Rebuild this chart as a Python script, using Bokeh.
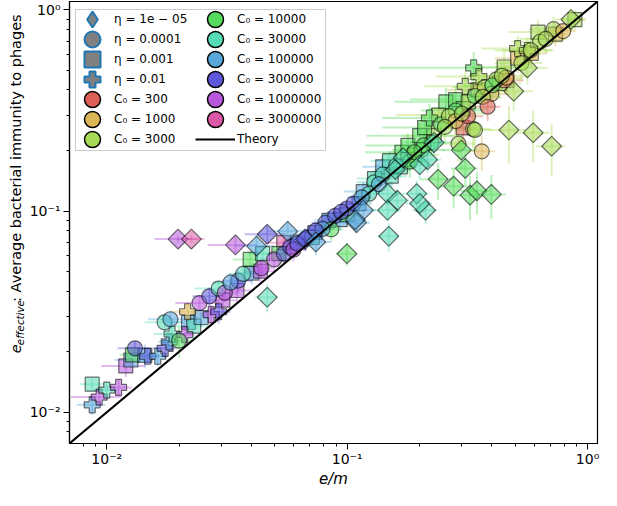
import math
from bokeh.plotting import figure
from bokeh.layouts import row
from bokeh.models import (ColumnDataSource, Legend, LegendItem, BoxAnnotation,
                          CustomJSTickFormatter, Range1d)
from bokeh.core.properties import value
from bokeh.embed import file_html
from bokeh.resources import INLINE

# ---------------- data ----------------
C0_VALUES = [300, 1000, 3000, 10000, 30000, 100000, 300000, 1000000, 3000000]
C0_COLORS = ["#db5f57", "#dbb757", "#a7db57", "#57db5f", "#57dbb7",
             "#57a7db", "#5f57db", "#b757db", "#db57a7"]
ETA_VALUES = [1e-05, 0.0001, 0.001, 0.01]
ETA_LABELS = ["η = 1e − 05", "η = 0.0001", "η = 0.001", "η = 0.01"]
X_LABEL = "e/m"
Y_LABEL_PARTS = ["e", "effective", ": Average bacterial immunity to phages"]

# eta = 1e-05 (diamonds)
D_em = [.0465, .0198, .0225, .0343, .0420, .0465, .0566, .0670, .0741, .0998,
        .1094, .1167, .1080, .1473, .1618, .1473, .1490, .1947, .2120, .2004,
        .1588, .1710, .2004, .2160, .2300, .2390, .2773, .3100, .3245, .3467,
        .3980, .2985, .4930, .5620, .8530, .4710, .5940, .7090]
D_eeff = [.0373, .0726, .0726, .0679, .0670, .0767, .0793, .0726, .0702, .0614,
          .0876, .1010, .0906, .1220, .1130, .1010, .0750, .1220, .1010, .1090,
          .1610, .1840, .1700, .1800, .2190, .1440, .1330, .1630, .1200, .1260,
          .1210, .2010, .3940, .5150, .8950, .2530, .2450, .2100]
D_em_err = [.0050, .0040, .0030, .0080, .0080, .0090, .0100, .0100, .0120, .0100,
            .0150, .0150, .0120, .0200, .0200, .0200, .0150, .0250, .0250, .0250,
            .0250, .0250, .0300, .0300, .0300, .0400, .0400, .0400, .0500, .0500,
            .0600, .0500, .1000, .1200, .1200, .0800, .1000, .1000]
D_eeff_err = [.0060, .0030, .0030, .0060, .0090, .0080, .0100, .0090, .0100, .0080,
              .0100, .0120, .0100, .0150, .0150, .0120, .0120, .0200, .0150, .0150,
              .0200, .0250, .0250, .0250, .0300, .0300, .0300, .0300, .0300, .0300,
              .0300, .0400, .0800, .0900, .1200, .0800, .0700, .0600]
D_c0 = [4, 7, 8, 7, 5, 6, 5, 6, 5, 3,
        5, 5, 5, 4, 4, 4, 4, 4, 4, 4,
        4, 4, 4, 4, 4, 3, 3, 3, 3, 3,
        3, 3, 2, 2, 2, 2, 2, 2]

# eta = 0.0001 (circles)
O_em = [.0131, .0200, .0174, .0184, .0243, .0267, .0292, .0310, .0352, .0440,
        .0497, .0545, .0580, .0598, .0669, .0813, .0891, .0998, .1064, .0859,
        .1294, .1406, .1824, .2040, .2240, .2904, .3340, .2825, .3730, .3980,
        .3400, .4180, .4580, .6340, .7220, .7920, .3630, .3400, .0790, .1235,
        .1355, .2080, .2455, .2650, .2825, .3670, .4020, .5310, .6700, .3840,
        .3185, .0369, .0327, .0620, .0740, .0945, .1150, .1600, .1900, .2550,
        .3000, .4400, .5800]
O_eeff = [.0208, .0227, .0280, .0290, .0349, .0377, .0412, .0393, .0451, .0520,
          .0575, .0614, .0664, .0643, .0726, .0876, .0946, .1030, .1090, .0811,
          .1390, .1520, .1760, .2010, .2190, .2160, .2560, .3160, .4120, .3820,
          .3730, .4510, .4600, .6940, .8010, .7840, .1980, .2530, .0815, .1220,
          .1360, .2120, .2700, .2960, .2800, .3690, .4220, .5440, .7170, .3300,
          .2960, .0487, .0441, .0690, .0800, .0990, .1170, .1680, .1960, .2620,
          .3050, .4700, .6300]
O_em_err = [.0020, .0025, .0030, .0035, .0050, .0040, .0060, .0040, .0050, .0050,
            .0060, .0080, .0070, .0080, .0080, .0100, .0110, .0120, .0120, .0100,
            .0200, .0200, .0400, .0500, .0500, .0500, .0600, .0800, .1000, .0800,
            .0800, .1200, .0800, .1500, .1500, .1000, .0500, .0600, .0100, .0180,
            .0200, .0400, .0500, .0600, .0400, .0700, .1000, .1200, .1500, .0500,
            .0500, .0050, .0050, .0080, .0090, .0120, .0150, .0300, .0400, .0600,
            .0700, .1200, .1400]
O_eeff_err = [.0018, .0040, .0025, .0030, .0030, .0040, .0040, .0040, .0060, .0050,
              .0070, .0070, .0070, .0080, .0080, .0100, .0100, .0110, .0120, .0100,
              .0150, .0180, .0300, .0300, .0300, .0400, .0500, .0500, .0700, .0600,
              .0600, .0800, .0700, .1000, .1200, .0800, .0400, .0500, .0090, .0130,
              .0150, .0300, .0400, .0400, .0400, .0600, .0700, .0900, .1100, .0500,
              .0500, .0050, .0050, .0070, .0080, .0100, .0120, .0200, .0250, .0400,
              .0450, .0800, .1000]
O_c0 = [6, 3, 4, 5, 7, 6, 4, 7, 6, 7,
        7, 6, 6, 7, 6, 6, 6, 6, 6, 3,
        4, 4, 3, 3, 3, 2, 2, 3, 2, 1,
        3, 2, 1, 2, 2, 1, 1, 2, 5, 4,
        5, 3, 3, 2, 1, 2, 3, 2, 2, 0,
        0, 4, 5, 6, 6, 6, 5, 4, 3, 2,
        2, 2, 2]

# eta = 0.001 (squares)
S_em = [.0087, .0120, .0126, .0128, .0144, .0219, .0230, .0247, .0304, .0348,
        .0401, .0436, .0545, .0733, .1167, .1406, .1690, .1790, .2004, .2575,
        .2825, .3040, .4500, .5120, .6220, .0620, .0716, .0935, .0998, .1120,
        .1525, .1665, .1790, .1910, .2300, .3040, .3190, .4300, .5830, .7350,
        .8860, .4620, .0395, .0445, .0520, .0840, .1300, .2100, .2400, .3500,
        .1500]
S_eeff = [.0138, .0170, .0182, .0193, .0192, .0280, .0268, .0296, .0361, .0403,
          .0492, .0503, .0697, .0781, .1250, .1660, .1960, .2120, .2370, .3490,
          .3580, .2590, .5200, .5750, .7750, .0702, .0740, .0906, .0960, .1090,
          .1490, .1660, .1800, .1900, .2370, .3230, .3490, .4310, .6080, .7580,
          .8950, .4450, .0575, .0614, .0614, .0900, .1450, .2600, .3000, .4000,
          .1780]
S_em_err = [.0010, .0025, .0018, .0015, .0020, .0030, .0035, .0035, .0040, .0050,
            .0060, .0060, .0080, .0090, .0200, .0250, .0500, .0600, .0800, .1000,
            .1000, .0400, .1200, .1000, .1500, .0080, .0090, .0120, .0150, .0150,
            .0250, .0300, .0400, .0500, .0600, .0800, .0700, .1000, .1000, .1200,
            .1000, .0800, .0060, .0060, .0070, .0110, .0200, .0700, .0800, .0900,
            .0250]
S_eeff_err = [.0008, .0020, .0015, .0015, .0025, .0030, .0040, .0030, .0050, .0050,
              .0060, .0070, .0080, .0090, .0150, .0200, .0300, .0300, .0400, .0600,
              .0600, .0400, .1000, .0900, .1200, .0080, .0080, .0100, .0120, .0120,
              .0180, .0200, .0250, .0300, .0350, .0500, .0500, .0700, .0900, .1000,
              .1000, .0600, .0060, .0060, .0070, .0100, .0170, .0400, .0450, .0600,
              .0200]
S_c0 = [4, 7, 5, 3, 5, 5, 4, 5, 7, 7,
        5, 7, 8, 6, 5, 5, 3, 3, 3, 3,
        3, 0, 2, 1, 2, 5, 4, 5, 3, 5,
        4, 4, 3, 2, 2, 3, 2, 2, 1, 1,
        2, 0, 3, 4, 3, 5, 4, 3, 2, 1,
        4]

# eta = 0.01 (pluses)
P_em = [.0087, .0093, .0100, .0112, .0148, .0163, .0175, .0182, .0187, .0211,
        .0217, .0272, .0292, .2200, .3100, .3360, .3530, .5120, .5620]
P_eeff = [.0109, .0119, .0129, .0133, .0190, .0190, .0208, .0224, .0245, .0243,
          .0316, .0306, .0316, .2900, .4170, .5150, .4660, .6420, .6280]
P_em_err = [.0012, .0022, .0012, .0015, .0018, .0015, .0020, .0018, .0030, .0020,
            .0030, .0030, .0035, .0800, .1000, .2000, .1200, .1500, .1500]
P_eeff_err = [.0012, .0010, .0010, .0012, .0014, .0020, .0022, .0025, .0030, .0030,
              .0035, .0035, .0040, .0500, .0800, .1000, .0800, .1000, .1000]
P_c0 = [5, 7, 4, 7, 6, 5, 6, 5, 4, 7,
        1, 7, 6, 3, 2, 3, 2, 2, 2]

# theory: e_effective = e/m
THEORY_EM = [0.005, 2.0]

FONT = "DejaVu Sans"

# ---------------- y-axis title strip (real text, with subscript) ----------------
ylab = figure(width=26, height=490, x_range=Range1d(0, 26), y_range=Range1d(0, 490),
              output_backend="svg", toolbar_location=None, min_border=0,
              x_axis_location=None, y_axis_location=None)
ylab.outline_line_color = None
ylab.grid.visible = False
ylab.background_fill_color = "white"
ylab.border_fill_color = "white"
ylab.text(x=[15], y=[100], text=[Y_LABEL_PARTS[0]], angle=math.pi / 2,
          text_align="left", text_baseline="middle", text_font=value(FONT),
          text_font_size=value("14.5px"), text_font_style="italic", text_color="black")
ylab.text(x=[19], y=[109], text=[Y_LABEL_PARTS[1]], angle=math.pi / 2,
          text_align="left", text_baseline="middle", text_font=value(FONT),
          text_font_size=value("10.3px"), text_font_style="italic", text_color="black")
ylab.text(x=[15], y=[157], text=[Y_LABEL_PARTS[2]], angle=math.pi / 2,
          text_align="left", text_baseline="middle", text_font=value(FONT),
          text_font_size=value("14.5px"), text_color="black")

# ---------------- main figure ----------------
p = figure(width=575, height=490, x_axis_type="log", y_axis_type="log",
           x_range=Range1d(0.007, 1.1), y_range=Range1d(0.007, 1.1),
           output_backend="svg", toolbar_location=None,
           min_border_left=42, min_border_right=4, min_border_top=1,
           min_border_bottom=30)
p.background_fill_color = "white"
p.border_fill_color = "white"
p.xgrid.visible = False
p.ygrid.visible = False
p.outline_line_color = "black"
p.outline_line_width = 1.2
p.outline_line_alpha = 1.0

sup_fmt = CustomJSTickFormatter(code="""
const e = Math.round(Math.log10(tick));
const m = {"-": "\u207b", "0": "\u2070", "1": "\u00b9", "2": "\u00b2", "3": "\u00b3",
           "4": "\u2074", "5": "\u2075", "6": "\u2076", "7": "\u2077", "8": "\u2078", "9": "\u2079"};
return "10" + String(e).split("").map(c => m[c]).join("");
""")
for ax in (p.xaxis[0], p.yaxis[0]):
    ax.formatter = sup_fmt
    ax.axis_line_color = "black"
    ax.axis_line_width = 1.2
    ax.major_tick_line_color = "black"
    ax.minor_tick_line_color = "black"
    ax.major_tick_out = 6
    ax.major_tick_in = 0
    ax.minor_tick_out = 3
    ax.minor_tick_in = 0
    ax.major_label_text_font = FONT
    ax.major_label_text_font_size = "14px"
    ax.major_label_text_color = "black"
    ax.major_label_standoff = 3
p.xaxis.major_label_standoff = 1
p.yaxis.axis_label = None
p.xaxis.axis_label = X_LABEL
p.xaxis.axis_label_text_font = FONT
p.xaxis.axis_label_text_font_size = "15px"
p.xaxis.axis_label_text_font_style = "italic"
p.xaxis.axis_label_text_color = "black"
p.xaxis.axis_label_standoff = 0

groups = [
    (S_em, S_eeff, S_em_err, S_eeff_err, S_c0, dict(marker="square", size=14, angle=0.0)),
    (P_em, P_eeff, P_em_err, P_eeff_err, P_c0, dict(marker="plus", size=16, angle=0.0)),
    (O_em, O_eeff, O_em_err, O_eeff_err, O_c0, dict(marker="circle", size=15, angle=0.0)),
    (D_em, D_eeff, D_em_err, D_eeff_err, D_c0, dict(marker="square", size=14, angle=math.pi / 4)),
]

sources = []
for em, ee, eme, eee, c0, style in groups:
    src = ColumnDataSource(dict(
        x=em, y=ee,
        xlo=[a - b for a, b in zip(em, eme)], xhi=[a + b for a, b in zip(em, eme)],
        ylo=[a - b for a, b in zip(ee, eee)], yhi=[a + b for a, b in zip(ee, eee)],
        color=[C0_COLORS[i] for i in c0]))
    sources.append((src, style))

# error bars first
for src, style in sources:
    p.segment(x0="xlo", y0="y", x1="xhi", y1="y", source=src,
              line_color="color", line_alpha=0.4, line_width=2)
    p.segment(x0="x", y0="ylo", x1="x", y1="yhi", source=src,
              line_color="color", line_alpha=0.4, line_width=2)

for src, style in sources:
    p.scatter(x="x", y="y", source=src, marker=style["marker"], size=style["size"],
              angle=style["angle"], fill_color="color", fill_alpha=0.55,
              line_color="black", line_alpha=0.55, line_width=1.2)

theory = p.line(THEORY_EM, THEORY_EM, line_color="black", line_width=2)

# ---------------- legend ----------------
nan = float("nan")
eta_markers = ["diamond", "circle", "square", "plus"]
items = []
for lab, mk in zip(ETA_LABELS, eta_markers):
    r = p.scatter([nan], [nan], marker=mk, size=16, fill_color="#808080",
                  line_color="#1f77b4", line_width=2)
    items.append(LegendItem(label=lab, renderers=[r]))
for c0, col in zip(C0_VALUES, C0_COLORS):
    r = p.scatter([nan], [nan], marker="circle", size=16, fill_color=col,
                  line_color="black", line_width=1.5)
    items.append(LegendItem(label=f"C\u2080 = {c0}", renderers=[r]))
items.append(LegendItem(label="Theory", renderers=[theory]))

# legend frame
p.add_layout(BoxAnnotation(left=6, right=256, top=434, bottom=293,
                           left_units="screen", right_units="screen",
                           top_units="screen", bottom_units="screen",
                           fill_color="white", fill_alpha=0.85,
                           line_color="#cccccc", line_width=1, line_alpha=1.0))

# two interleaved legends: column 1 = items 0..6, column 2 = items 7..13
col1, col2 = items[:7], items[7:]
common = dict(orientation="vertical", glyph_width=40, glyph_height=40, spacing=0,
              padding=0, label_width=81, label_standoff=2,
              label_text_font=FONT, label_text_font_size="12px",
              label_text_color="black",
              border_line_color=None, background_fill_alpha=0.0)
legend_a = Legend(items=col1[0::2] + col2[0::2], location=(3, 284), nrows=4, **common)
legend_b = Legend(items=col1[1::2] + col2[1::2], location=(3, 304), nrows=3, **common)
p.add_layout(legend_a)
p.add_layout(legend_b)

open("out.html", "w").write(file_html(row(ylab, p), INLINE))
